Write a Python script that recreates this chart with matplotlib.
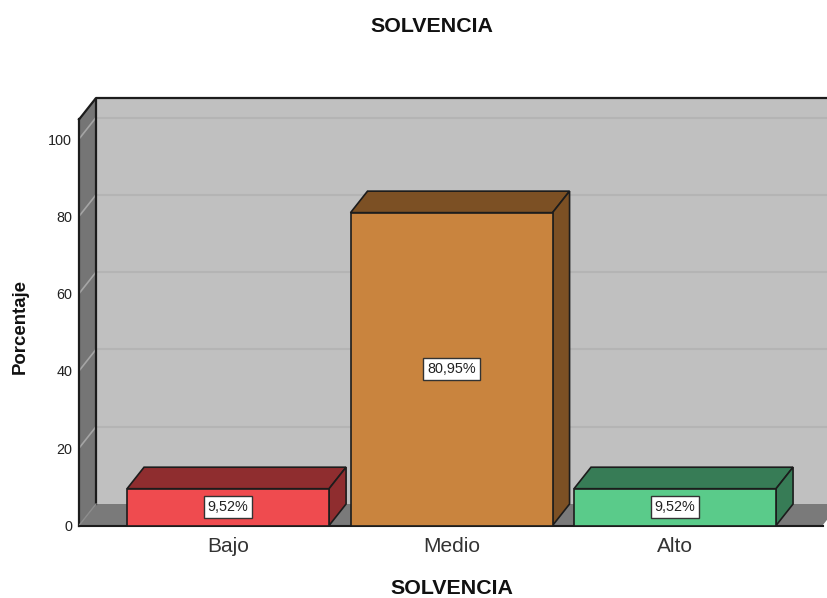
import matplotlib
matplotlib.use("Agg")
import matplotlib.pyplot as plt
from matplotlib.patches import Polygon

plt.rcParams['font.family'] = ['Liberation Sans', 'DejaVu Sans']

categorias = ['Bajo', 'Medio', 'Alto']
porcentajes = [9.52, 80.95, 9.52]
etiquetas = ['9,52%', '80,95%', '9,52%']
yticks = [0, 20, 40, 60, 80, 100]

color_frente = ['#EF4B4F', '#C9843E', '#5ACB8A']
color_lado = ['#8F2D2F', '#7C5024', '#377C56']
borde = '#1c1c1c'

# depth of the fake 3d effect, in data units
dx = 17 / 223.5
dy = 21.5 / 3.865
ancho = 0.904
xmin, xmax = -0.667, 2.68
ymax = 105.05
xfin = 2.66

fig = plt.figure(figsize=(8.27, 5.98), dpi=100)
ax = fig.add_axes([79 / 827, (598 - 525.5) / 598, (827 - 79) / 827, 427.5 / 598])
ax.set_xlim(xmin, xmax)
ax.set_ylim(0, ymax + dy)

# back wall, floor, left wall
ax.add_patch(Polygon([(xmin + dx, dy), (xfin + dx, dy), (xfin + dx, ymax + dy), (xmin + dx, ymax + dy)],
                     fc='#C0C0C0', ec='none', zorder=1))
ax.add_patch(Polygon([(xmin, 0), (xfin, 0), (xfin + dx, dy), (xmin + dx, dy)],
                     fc='#7A7A7A', ec='none', zorder=1))
ax.add_patch(Polygon([(xmin, 0), (xmin + dx, dy), (xmin + dx, ymax + dy), (xmin, ymax)],
                     fc='#757575', ec='none', zorder=1))

for t in yticks:
    if t == 0:
        continue
    ax.plot([xmin + dx, xfin + dx], [t + dy, t + dy], color='#B4B4B4', lw=1.5, zorder=2)
    ax.plot([xmin, xmin + dx], [t, t + dy], color='#A5A5A5', lw=1.2, zorder=2)

ax.plot([xmin, xmin], [0, ymax], color=borde, lw=1.6, zorder=3, clip_on=False)
ax.plot([xmin + dx, xmin + dx], [dy, ymax + dy], color=borde, lw=1.6, zorder=3)
ax.plot([xmin, xmin + dx, xfin + dx], [ymax, ymax + dy, ymax + dy], color=borde, lw=1.6, zorder=3, clip_on=False)
ax.plot([xmin, xmin + dx], [0, dy], color='#8c8c8c', lw=1, zorder=3)
ax.plot([xmin, xfin], [0, 0], color=borde, lw=1.5, zorder=3, clip_on=False)

for i, v in enumerate(porcentajes):
    x0 = i - ancho / 2
    x1 = i + ancho / 2
    # top, side, front
    ax.add_patch(Polygon([(x0, v), (x1, v), (x1 + dx, v + dy), (x0 + dx, v + dy)],
                         fc=color_lado[i], ec=borde, lw=1.2, zorder=4))
    ax.add_patch(Polygon([(x1, 0), (x1 + dx, dy), (x1 + dx, v + dy), (x1, v)],
                         fc=color_lado[i], ec=borde, lw=1.2, zorder=4))
    ax.add_patch(Polygon([(x0, 0), (x1, 0), (x1, v), (x0, v)],
                         fc=color_frente[i], ec=borde, lw=1.2, zorder=5))
    ax.text(i, v / 2, etiquetas[i], ha='center', va='center', fontsize=10.4, color='#222222', zorder=6,
            bbox=dict(boxstyle='square,pad=0.26', fc='white', ec='#333333', lw=1))

for s in ax.spines.values():
    s.set_visible(False)
ax.set_xticks(range(len(categorias)))
ax.set_xticklabels(categorias, fontsize=15, color='#333333')
ax.set_yticks(yticks)
ax.set_yticklabels([str(t) for t in yticks], fontsize=10.4, color='#222222')
ax.tick_params(axis='both', length=0)
ax.tick_params(axis='x', pad=8.5)
ax.tick_params(axis='y', pad=5)

fig.text(431.5 / 827, 1 - 26.5 / 598, 'SOLVENCIA', ha='center', va='center', fontsize=15.4, fontweight='bold', color='#111111')
fig.text(452 / 827, 1 - 588.5 / 598, 'SOLVENCIA', ha='center', va='center', fontsize=15.4, fontweight='bold', color='#111111')
fig.text(20 / 827, 1 - 326.5 / 598, 'Porcentaje', ha='center', va='center', rotation=90, fontsize=13.4, fontweight='bold', color='#111111')

fig.savefig('out.png', dpi=100)
